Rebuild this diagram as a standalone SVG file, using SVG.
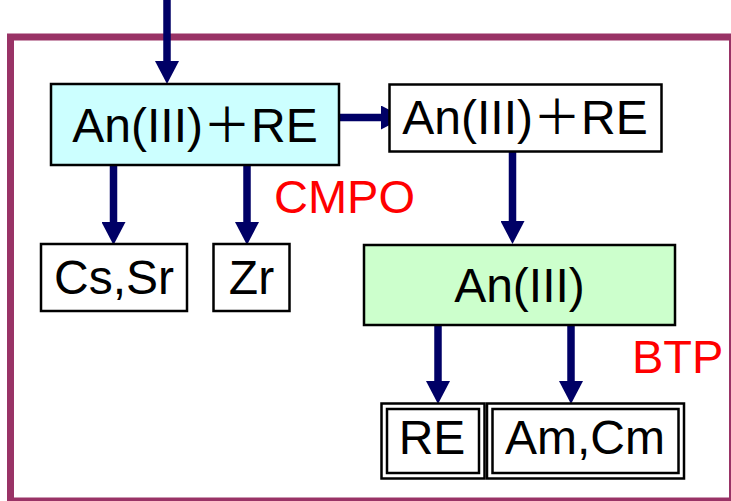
<svg xmlns="http://www.w3.org/2000/svg" width="731" height="501" viewBox="0 0 731 501">
<defs>
<marker id="ah" markerUnits="userSpaceOnUse" viewBox="0 0 23 24" refX="0" refY="12" markerWidth="23" markerHeight="24" orient="auto">
<path d="M0,0 L23,12 L0,24 Z" fill="#000066"/>
</marker>
</defs>
<style>
.t{font-family:"Liberation Sans","Noto Sans CJK JP",Arial,sans-serif;font-size:48px;fill:#000;text-anchor:middle}
.lbl{font-family:"Liberation Sans",Arial,sans-serif;font-size:47px;fill:#FF0000}
.box{stroke:#000;stroke-width:2.5}
.c{stroke:#000066;stroke-width:7.5;fill:none;marker-end:url(#ah)}
</style>
<rect x="0" y="0" width="731" height="501" fill="#fff"/>
<rect id="frame" x="10.5" y="37" width="722" height="464" fill="none" stroke="#993366" stroke-width="7"/>
<g id="connectors">
<line class="c" x1="167" y1="0" x2="167" y2="61"/>
<line class="c" x1="113.5" y1="165" x2="113.5" y2="222"/>
<line class="c" x1="247" y1="165" x2="247" y2="222"/>
<line class="c" x1="339" y1="117.5" x2="381" y2="117.5"/>
<line class="c" x1="512.5" y1="151" x2="512.5" y2="221"/>
<line class="c" x1="438" y1="325" x2="438" y2="381"/>
<line class="c" x1="571" y1="325" x2="571" y2="381"/>
</g>
<g id="n1">
<rect class="box" x="51" y="84" width="288" height="81" fill="#CCFFFF"/>
<text class="t" x="195" y="142">An(III)＋RE</text>
</g>
<g id="n2">
<rect class="box" x="389.5" y="84.5" width="272" height="67" fill="#fff"/>
<text class="t" x="525" y="134">An(III)＋RE</text>
</g>
<g id="n3">
<rect class="box" x="41" y="244" width="146" height="67" fill="#fff"/>
<text class="t" x="114" y="294">Cs,Sr</text>
</g>
<g id="n4">
<rect class="box" x="213.5" y="244" width="76" height="67" fill="#fff"/>
<text class="t" x="251.5" y="294">Zr</text>
</g>
<g id="n5">
<rect class="box" x="364" y="245" width="311" height="80" fill="#CCFFCC"/>
<text class="t" x="519.5" y="301.5">An(III)</text>
</g>
<g id="n6">
<rect class="box" x="381.5" y="403.5" width="103" height="75" fill="#fff"/>
<rect class="box" x="387" y="409" width="92" height="64" fill="none"/>
<text class="t" x="432" y="454">RE</text>
</g>
<g id="n7">
<rect class="box" x="487" y="403.5" width="197" height="75" fill="#fff"/>
<rect class="box" x="492.5" y="409" width="186" height="64" fill="none"/>
<text class="t" x="585" y="454">Am,Cm</text>
</g>
<text id="cmpo" class="lbl" x="274" y="213">CMPO</text>
<text id="btp" class="lbl" x="632" y="372.5">BTP</text>
</svg>
